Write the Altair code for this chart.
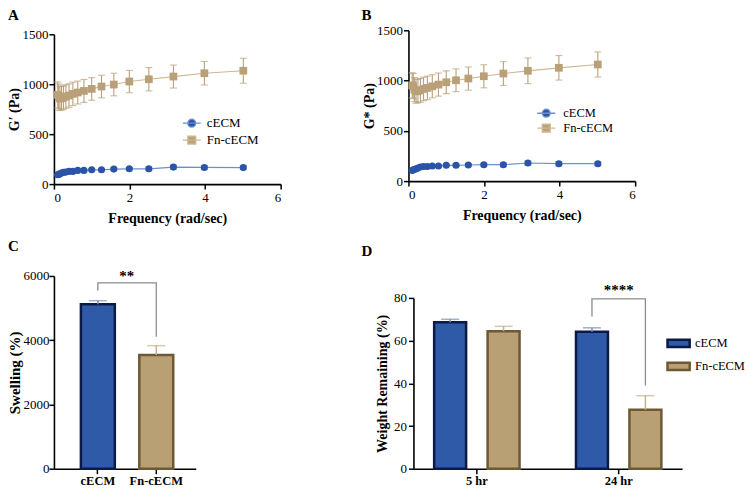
import altair as alt
import pandas as pd

SERIF = "Liberation Serif"
SERIES = ["cECM", "Fn-cECM"]
LETTERS = ["A", "B", "C", "D"]

# ---------- A / B : rheology ----------
freq = [0.1, 0.126, 0.158, 0.2, 0.251, 0.316, 0.398, 0.501, 0.631, 0.794,
        1.0, 1.259, 1.585, 1.995, 2.512, 3.162, 3.981, 5.012]

a_cecm = [93, 97, 103, 110, 117, 120, 127, 127, 137, 137, 143, 143, 150, 153, 153, 170, 167, 165]
a_cecm_err = [6, 6, 6, 6, 7, 7, 7, 8, 8, 9, 10, 10, 11, 12, 18, 20, 18, 18]
a_fn = [893, 877, 857, 860, 867, 877, 887, 903, 917, 933, 953, 977, 997, 1027, 1050, 1077, 1110, 1135]
a_fn_err = [130, 125, 120, 118, 118, 118, 117, 117, 115, 115, 113, 113, 113, 112, 117, 115, 118, 125]

b_cecm = [106, 113, 116, 123, 130, 140, 146, 146, 150, 150, 157, 157, 160, 163, 163, 180, 173, 173]
b_cecm_err = [6, 6, 6, 7, 7, 7, 8, 8, 9, 10, 10, 11, 12, 14, 18, 20, 20, 18]
b_fn = [953, 943, 910, 893, 897, 903, 917, 927, 943, 960, 983, 1003, 1020, 1043, 1070, 1097, 1127, 1160]
b_fn_err = [125, 125, 120, 118, 118, 118, 117, 117, 115, 115, 113, 113, 115, 115, 118, 128, 122, 125]

# ---------- C : swelling ----------
swell = [5120, 3540]
swell_err = [110, 290]
c_bracket = [5536, 5784, 5784, 4108]
c_star_y = 5990
c_star = "**"

# ---------- D : weight remaining ----------
TIMES = ["5 hr", "24 hr"]
w_cecm = [68.6, 64.1]
w_cecm_err = [1.4, 1.9]
w_fn = [64.4, 27.6]
w_fn_err = [2.3, 6.6]
d_bracket = [71.3, 79.6, 79.6, 39.0]
d_star_y = 83.8
d_star = "****"

MARKER = ["#2B53A7", "#B9A078"]
LINE = ["#6E8ED0", "#CDB892"]
ERR = ["#4F6FB8", "#B9A078"]
BAR_FILL = ["#2E5AA7", "#B8A074"]
BAR_STROKE = ["#0B1B45", "#6E5935"]
BAR_ERR = ["#7D8DB0", "#C4B08C"]
BRACKET = "#8C8C8C"

PATH_CIRCLE = "M-1.5,0H1.5M-0.65,0A0.65,0.65,0,1,0,0.65,0A0.65,0.65,0,1,0,-0.65,0Z"
PATH_SQUARE = "M-1.5,0H1.5M-0.65,-0.65H0.65V0.65H-0.65Z"
PATH_RECT = "M-1.85,-0.6H1.85V0.6H-1.85Z"


def letter_layer(letter, lx, ly):
    return alt.Chart(pd.DataFrame({"t": [letter]})).mark_text(
        align="left", baseline="top", font=SERIF, fontSize=15, fontWeight="bold", color="black"
    ).encode(text="t:N", x=alt.value(lx), y=alt.value(ly))


def rheo_panel(c, ce, f, fe, ytitle, xrange, yrange, yoffset, legx, legy, legfont, legpad, legoff):
    rows = []
    for s, vals, errs in [("cECM", c, ce), ("Fn-cECM", f, fe)]:
        for x, v, e in zip(freq, vals, errs):
            rows.append({"freq": x, "series": s, "val": v, "lo": v - e, "hi": v + e})
    df = pd.DataFrame(rows)
    xs = alt.Scale(domain=[0, 6], range=xrange)
    ys = alt.Scale(domain=[0, 1500], range=yrange)
    xax = alt.Axis(values=[0, 2, 4, 6], title="Frequency (rad/sec)", titlePadding=7, format="d")
    yax = alt.Axis(values=[0, 500, 1000, 1500], title=ytitle, titlePadding=0, labelPadding=1,
                   format="d", offset=yoffset)
    X = alt.X("freq:Q", scale=xs, axis=xax)

    def Y(fld):
        return alt.Y(f"{fld}:Q", scale=ys, axis=yax)

    layers = []
    for i, s in enumerate(SERIES):
        b = alt.Chart(df).transform_filter(alt.datum.series == s)
        layers.append(b.mark_line(color=LINE[i], strokeWidth=1.2).encode(x=X, y=Y("val")))
        layers.append(b.mark_rule(color=ERR[i], strokeWidth=1.1).encode(x=X, y=Y("lo"), y2="hi:Q"))
        layers.append(b.mark_tick(color=ERR[i], orient="horizontal", size=7, thickness=1.1).encode(x=X, y=Y("hi")))
        layers.append(b.mark_tick(color=ERR[i], orient="horizontal", size=7, thickness=1.1).encode(x=X, y=Y("lo")))
        if i == 0:
            pts = b.mark_circle(color=MARKER[i], size=50, opacity=1)
        else:
            pts = b.mark_square(color=MARKER[i], size=60, opacity=1)
        layers.append(pts.encode(x=X, y=Y("val")))

    leg = alt.Legend(orient="none", legendX=legx, legendY=legy, title=None, labelFont=SERIF,
                     labelFontSize=legfont, labelColor="black", symbolSize=144, symbolStrokeWidth=1.4,
                     labelOffset=legoff, rowPadding=legpad, padding=0, symbolOpacity=1)
    legend_layer = alt.Chart(pd.DataFrame({"series": SERIES})).transform_filter("false").mark_point(
        size=144, opacity=1, strokeWidth=1.4
    ).encode(
        fill=alt.Fill("series:N", scale=alt.Scale(domain=SERIES, range=MARKER), legend=leg),
        stroke=alt.Stroke("series:N", scale=alt.Scale(domain=SERIES, range=LINE), legend=leg),
        shape=alt.Shape("series:N", scale=alt.Scale(domain=SERIES, range=[PATH_CIRCLE, PATH_SQUARE]), legend=leg),
    )
    layers.append(legend_layer)
    return layers


A_layers = rheo_panel(a_cecm, a_cecm_err, a_fn, a_fn_err, "G′ (Pa)", [0, 227], [156, 6], 0, 131, 88, 13, 3, 8)
A_layers.append(letter_layer(LETTERS[0], -46, -20))
A = alt.layer(*A_layers).properties(width=227, height=156)

B_layers = rheo_panel(b_cecm, b_cecm_err, b_fn, b_fn_err, "G* (Pa)", [-5, 222], [153, 2], 5, 126, 78, 12.5, 1, 10)
B_layers.append(letter_layer(LETTERS[1], -52, -20))
B = alt.layer(*B_layers).properties(width=222, height=153)

# ---------- C ----------
cdf = pd.DataFrame({"series": SERIES, "val": swell,
                    "hi": [v + e for v, e in zip(swell, swell_err)]})
Xc = alt.X("series:N", sort=SERIES,
           scale=alt.Scale(paddingInner=0.419, paddingOuter=0.423, align=0.545),
           axis=alt.Axis(title=None, labelAngle=0, labelFontWeight="bold", labelFontSize=12.5, labelPadding=1))
ysc = alt.Scale(domain=[0, 6000], range=[197, 4])
yaxc = alt.Axis(values=[0, 2000, 4000, 6000], title="Swelling (%)", titlePadding=0, labelPadding=0,
                format="d", titleFontSize=15)


def Yc(fld):
    return alt.Y(f"{fld}:Q", scale=ysc, axis=yaxc)


c_bars = alt.Chart(cdf).mark_bar(strokeWidth=2.5).encode(
    x=Xc, y=Yc("val"),
    fill=alt.Fill("series:N", scale=alt.Scale(domain=SERIES, range=BAR_FILL), legend=None),
    stroke=alt.Stroke("series:N", scale=alt.Scale(domain=SERIES, range=BAR_STROKE), legend=None),
)
c_err_color = alt.Color("series:N", scale=alt.Scale(domain=SERIES, range=BAR_ERR), legend=None)
c_rule = alt.Chart(cdf).mark_rule(strokeWidth=1.5).encode(x=Xc, y=Yc("val"), y2="hi:Q", color=c_err_color)
c_tick = alt.Chart(cdf).mark_tick(orient="horizontal", size=18, thickness=1.5).encode(x=Xc, y=Yc("hi"), color=c_err_color)
cbr = pd.DataFrame({"series": [SERIES[0], SERIES[0], SERIES[1], SERIES[1]], "y": c_bracket, "o": [0, 1, 2, 3]})
c_br = alt.Chart(cbr).mark_line(color=BRACKET, strokeWidth=1.3).encode(x=Xc, y=Yc("y"), order="o:Q")
c_txt = alt.Chart(pd.DataFrame({"series": [SERIES[0]], "y": [c_star_y], "t": [c_star]})).mark_text(
    dx=29, baseline="middle", font=SERIF, fontSize=15, fontWeight="bold", color="black"
).encode(x=Xc, y=Yc("y"), text="t:N")
C = alt.layer(c_bars, c_rule, c_tick, c_br, c_txt, letter_layer(LETTERS[2], -46, -33)).properties(width=142, height=197)

# ---------- D ----------
drows = []
for s, vals, errs in [("cECM", w_cecm, w_cecm_err), ("Fn-cECM", w_fn, w_fn_err)]:
    for t, v, e in zip(TIMES, vals, errs):
        drows.append({"time": t, "series": s, "val": v, "hi": v + e})
ddf = pd.DataFrame(drows)
Xd = alt.X("time:N", sort=TIMES, scale=alt.Scale(paddingInner=0.398, paddingOuter=0.146),
           axis=alt.Axis(title=None, labelAngle=0, labelFontWeight="bold", labelFontSize=12.5, labelPadding=1))
XOd = alt.XOffset("series:N", sort=SERIES, scale=alt.Scale(paddingInner=0.402, paddingOuter=0))
ysd = alt.Scale(domain=[0, 80], range=[197, 26])
yaxd = alt.Axis(values=[0, 20, 40, 60, 80], title="Weight Remaining (%)", titlePadding=4, format="d", titleFontSize=14)


def Yd(fld):
    return alt.Y(f"{fld}:Q", scale=ysd, axis=yaxd)


legD = alt.Legend(orient="none", legendX=258, legendY=64, title=None, labelFont=SERIF, labelFontSize=12.5,
                  labelColor="black", symbolType=PATH_RECT, symbolSize=144, symbolStrokeWidth=2.5,
                  labelOffset=9, rowPadding=4, padding=0)
d_bars = alt.Chart(ddf).mark_bar(strokeWidth=2.5).encode(
    x=Xd, xOffset=XOd, y=Yd("val"),
    fill=alt.Fill("series:N", scale=alt.Scale(domain=SERIES, range=BAR_FILL), legend=legD),
    stroke=alt.Stroke("series:N", scale=alt.Scale(domain=SERIES, range=BAR_STROKE), legend=legD),
)
d_err_color = alt.Color("series:N", scale=alt.Scale(domain=SERIES, range=BAR_ERR), legend=None)
d_rule = alt.Chart(ddf).mark_rule(strokeWidth=1.5).encode(x=Xd, xOffset=XOd, y=Yd("val"), y2="hi:Q", color=d_err_color)
d_tick = alt.Chart(ddf).mark_tick(orient="horizontal", size=18, thickness=1.5).encode(
    x=Xd, xOffset=XOd, y=Yd("hi"), color=d_err_color)
dbr = pd.DataFrame({"time": [TIMES[1]] * 4, "series": [SERIES[0], SERIES[0], SERIES[1], SERIES[1]],
                    "y": d_bracket, "o": [0, 1, 2, 3]})
d_br = alt.Chart(dbr).mark_line(color=BRACKET, strokeWidth=1.3).encode(x=Xd, xOffset=XOd, y=Yd("y"), order="o:Q")
d_txt = alt.Chart(pd.DataFrame({"time": [TIMES[1]], "y": [d_star_y], "t": [d_star]})).mark_text(
    baseline="middle", font=SERIF, fontSize=15, fontWeight="bold", color="black"
).encode(x=Xd, y=Yd("y"), text="t:N")
D = alt.layer(d_bars, d_rule, d_tick, d_br, d_txt, letter_layer(LETTERS[3], -52, -28)).properties(width=269, height=197)

res = dict(color="independent", fill="independent", stroke="independent", shape="independent")
chart = alt.concat(A, B, C, D, columns=2, spacing={"row": 88, "column": 133}, bounds="flush").resolve_scale(
    **res).resolve_legend(**res).properties(padding=0).configure_axis(
    domainColor="black", domainWidth=1.6, tickColor="black", tickWidth=1.5, tickSize=5,
    labelFont=SERIF, labelFontSize=13, labelColor="black", labelPadding=2,
    titleFont=SERIF, titleFontSize=14, titleFontWeight="bold", titleColor="black", grid=False
).configure_view(stroke=None).configure_legend(labelFont=SERIF)

chart.save("out.html", embed_options={"renderer": "svg", "actions": False})
